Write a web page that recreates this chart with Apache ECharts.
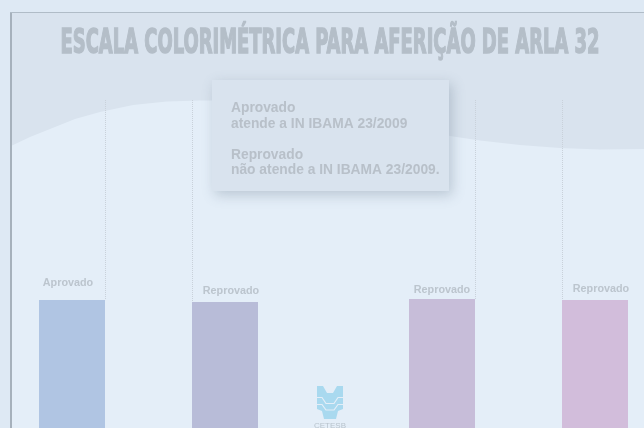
<!DOCTYPE html>
<html>
<head>
<meta charset="utf-8">
<script src="https://cdn.jsdelivr.net/npm/echarts@6/dist/echarts.min.js"></script>
<style>
  html, body { margin: 0; padding: 0; background: #dee9f4; }
  #chart { width: 644px; height: 428px; }
</style>
</head>
<body>
<div id="chart"></div>
<script>
// chart data
const categories = ['Aprovado', 'Reprovado', 'Reprovado', 'Reprovado']
const positions = [72, 225, 442, 595]          // bar centres on the position axis
const values = [39.0, 38.4, 39.3, 39.0]        // bar heights (0-100 scale)
const barColors = ['#b0c5e3', '#b8bcd8', '#c7bdd9', '#d2bddb']
const guideX = [105, 192, 475, 562]            // dotted guide lines
const guideEnd = [39.0, 38.4, 39.3, 39.0]
const labelShift = [[-4, -7], [6, -1], [0, 1], [6, -1]]

const titleText = 'ESCALA COLORIMÉTRICA PARA AFERIÇÃO DE ARLA 32'
const noteText = 'Aprovado\natende a IN IBAMA 23/2009\n\nReprovado\nnão atende a IN IBAMA 23/2009.'

// edge of the lighter wave behind the plot
const wave = [
  [11, 146], [30, 137], [50, 129], [75, 119], [100, 112], [133, 105], [167, 101.5],
  [200, 100.5], [240, 100.5], [280, 102], [320, 106], [360, 112], [400, 121],
  [430, 130], [450, 136], [480, 140.5], [520, 145], [560, 148], [600, 149.5], [644, 149]
]

const chart = echarts.init(document.getElementById('chart'))

// squeeze the title to its width in the picture
const titleFont = 'bold 30px "Liberation Sans Narrow", "DejaVu Sans Condensed", sans-serif'
const ctx = document.createElement('canvas').getContext('2d')
ctx.font = titleFont
const titleScale = 539 / ctx.measureText(titleText).width

const option = {
  backgroundColor: '#dee9f4',
  animation: false,
  grid: { left: 0, right: 0, top: 100, bottom: 0 },
  xAxis: { type: 'value', min: 0, max: 644, show: false },
  yAxis: { type: 'value', min: 0, max: 100, show: false },
  graphic: [
    {
      type: 'rect', z: -10, silent: true,
      shape: { x: 11, y: 13, width: 640, height: 420 },
      style: { fill: '#d9e3ee' }
    },
    {
      type: 'polygon', z: -9, silent: true,
      shape: { points: wave.concat([[644, 430], [11, 430]]) },
      style: { fill: '#e4eef8' }
    },
    {
      type: 'line', z: -8, silent: true,
      shape: { x1: 11, y1: 13, x2: 11, y2: 430 },
      style: { stroke: '#a6b1bc', lineWidth: 2 }
    },
    {
      type: 'line', z: -8, silent: true,
      shape: { x1: 10, y1: 12.5, x2: 644, y2: 12.5 },
      style: { stroke: '#b0bcc7', lineWidth: 1.2 }
    },
    {
      type: 'text', z: -7, silent: true,
      x: 330, y: 44, scaleX: titleScale, scaleY: 1.1,
      style: {
        text: titleText, font: titleFont, fill: '#b4bec8',
        stroke: '#b4bec8', lineWidth: 1.3,
        align: 'center', verticalAlign: 'middle'
      }
    },
    {
      type: 'rect', z: -6, silent: true,
      shape: { x: 212, y: 80, width: 237, height: 111 },
      style: {
        fill: '#d9e3ee', shadowBlur: 12, shadowColor: 'rgba(90,110,130,0.3)',
        shadowOffsetX: 3, shadowOffsetY: 4
      }
    },
    {
      type: 'text', z: -5, silent: true,
      x: 231, y: 100.5,
      style: {
        text: noteText, font: 'bold 13.8px "Liberation Sans", Arial, sans-serif',
        lineHeight: 15.5, fill: '#b8c0c9', align: 'left', verticalAlign: 'top'
      }
    },
    {
      type: 'polygon', z: -4, silent: true,
      shape: {
        points: [
          [317, 386], [323, 386], [327, 393], [333, 393], [337, 386], [343, 386],
          [343, 409], [338, 411], [336, 419], [324, 419], [322, 411], [317, 409]
        ]
      },
      style: { fill: '#a9d9ef' }
    },
    {
      type: 'polyline', z: -3, silent: true,
      shape: { points: [[316, 397.5], [322, 397.5], [326, 403.5], [334, 403.5], [338, 397.5], [344, 397.5]] },
      style: { stroke: '#e4eef8', lineWidth: 1.2, fill: null }
    },
    {
      type: 'polyline', z: -3, silent: true,
      shape: { points: [[316, 404.5], [322, 404.5], [326, 410], [334, 410], [338, 404.5], [344, 404.5]] },
      style: { stroke: '#e4eef8', lineWidth: 1.2, fill: null }
    },
    {
      type: 'text', z: -2, silent: true,
      x: 330, y: 426,
      style: {
        text: 'CETESB', font: '8px "Liberation Sans", Arial, sans-serif',
        fill: '#b8c3cc', align: 'center', verticalAlign: 'middle'
      }
    }
  ],
  series: [
    {
      type: 'bar',
      barWidth: 66,
      silent: true,
      data: positions.map((x, i) => ({
        value: [x, values[i]],
        itemStyle: { color: barColors[i] },
        label: { offset: labelShift[i] }
      })),
      label: {
        show: true,
        position: 'top',
        distance: 5,
        formatter: p => categories[p.dataIndex],
        color: '#bcc5ce',
        fontFamily: '"Liberation Sans", Arial, sans-serif',
        fontWeight: 'bold',
        fontSize: 10.8
      },
      markLine: {
        silent: true,
        symbol: 'none',
        label: { show: false },
        lineStyle: { color: '#c9d1da', type: 'dotted', width: 1 },
        data: guideX.map((x, i) => [
          { coord: [x, 100] },
          { coord: [x, guideEnd[i]] }
        ])
      }
    }
  ]
}

chart.setOption(option)
</script>
</body>
</html>
